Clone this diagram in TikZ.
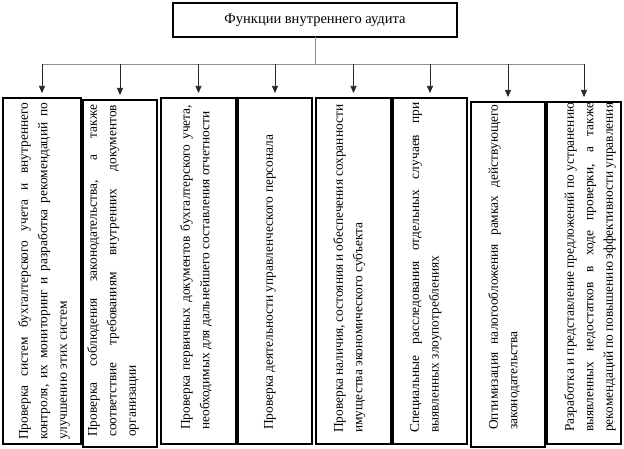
\documentclass[tikz,border=0pt]{standalone}
\usepackage{fontspec}
\setmainfont{Liberation Serif}
\usetikzlibrary{arrows.meta,positioning}

\begin{document}
\begin{tikzpicture}[
x=1pt,y=1pt,
font=\fontsize{13.4}{19.5}\selectfont,
box/.style={draw,line width=1.1pt,inner sep=0pt,outer sep=0pt,anchor=north west},
txt/.style={rotate=90,anchor=north west,inner sep=0pt,align=justify,
  execute at begin node={\hyphenpenalty=10000\relax}},
bus/.style={draw=black!45,line width=0.8pt},
oneway/.style={-{Triangle[width=6pt,length=7pt]},draw=black!85,line width=0.6pt,shorten >=5pt}]
    \useasboundingbox (0,0) rectangle (624,449);

    % Top box
    \node[box,minimum width=284,minimum height=34,font=\fontsize{14.5}{17}\selectfont]
        (head) at (173,446) {Функции внутреннего аудита};

    % Boxes
    \node[box,minimum width=78,minimum height=346] (b1) at (3,351) {};
    \node[box,minimum width=74,minimum height=347] (b2) at (83,349) {};
    \node[box,minimum width=75,minimum height=346] (b3) at (161,351) {};
    \node[box,minimum width=74,minimum height=346] (b4) at (238,351) {};
    \node[box,minimum width=75,minimum height=346] (b5) at (316,351) {};
    \node[box,minimum width=74,minimum height=346] (b6) at (393,351) {};
    \node[box,minimum width=74,minimum height=345] (b7) at (471,347) {};
    \node[box,minimum width=74,minimum height=342] (b8) at (547,347) {};

    % Texts
    \node[txt,text width=337pt] (t1) at ([shift={(15,4)}]b1.south west)
        {Проверка систем бухгалтерского учета и внутреннего\linebreak
         контроля, их мониторинг и разработка рекомендаций по\linebreak
         улучшению этих систем};
    \node[txt,text width=332pt] (t2) at ([shift={(4,10)}]b2.south west)
        {Проверка соблюдения законодательства, а также\linebreak
         соответствие требованиям внутренних документов\linebreak
         организации};
    \node[txt,text width=325pt] (t3) at ([shift={(19,14)}]b3.south west)
        {Проверка первичных документов бухгалтерского учета,\linebreak
         необходимых для дальнейшего составления отчетности};
    \node[txt,text width=325pt] (t4) at ([shift={(26,14)}]b4.south west)
        {Проверка деятельности управленческого персонала};
    \node[txt,text width=328pt] (t5) at ([shift={(17,11)}]b5.south west)
        {Проверка наличия, состояния и обеспечения сохранности\linebreak
         имущества экономического субъекта};
    \node[txt,text width=330pt] (t6) at ([shift={(17,11)}]b6.south west)
        {Специальные расследования отдельных случаев при\linebreak
         выявленных злоупотреблениях};
    \node[txt,text width=325pt] (t7) at ([shift={(17,17)}]b7.south west)
        {Оптимизация налогообложения рамках действующего\linebreak
         законодательства};
    \node[txt,text width=329pt] (t8) at ([shift={(17,12)}]b8.south west)
        {Разработка и представление предложений по устранению\linebreak
         выявленных недостатков в ходе проверки, а также\linebreak
         рекомендаций по повышению эффективности управления};

    % Connectors
    \coordinate (fork) at (head.south |- 0,385);
    \draw[bus] (head.south) -- (fork);
    \draw[bus] (b1.north |- fork) -- (b8.north |- fork);
    \foreach \i in {1,...,8}
        \draw[oneway] (b\i.north |- fork) -- (b\i.north);
\end{tikzpicture}
\end{document}
